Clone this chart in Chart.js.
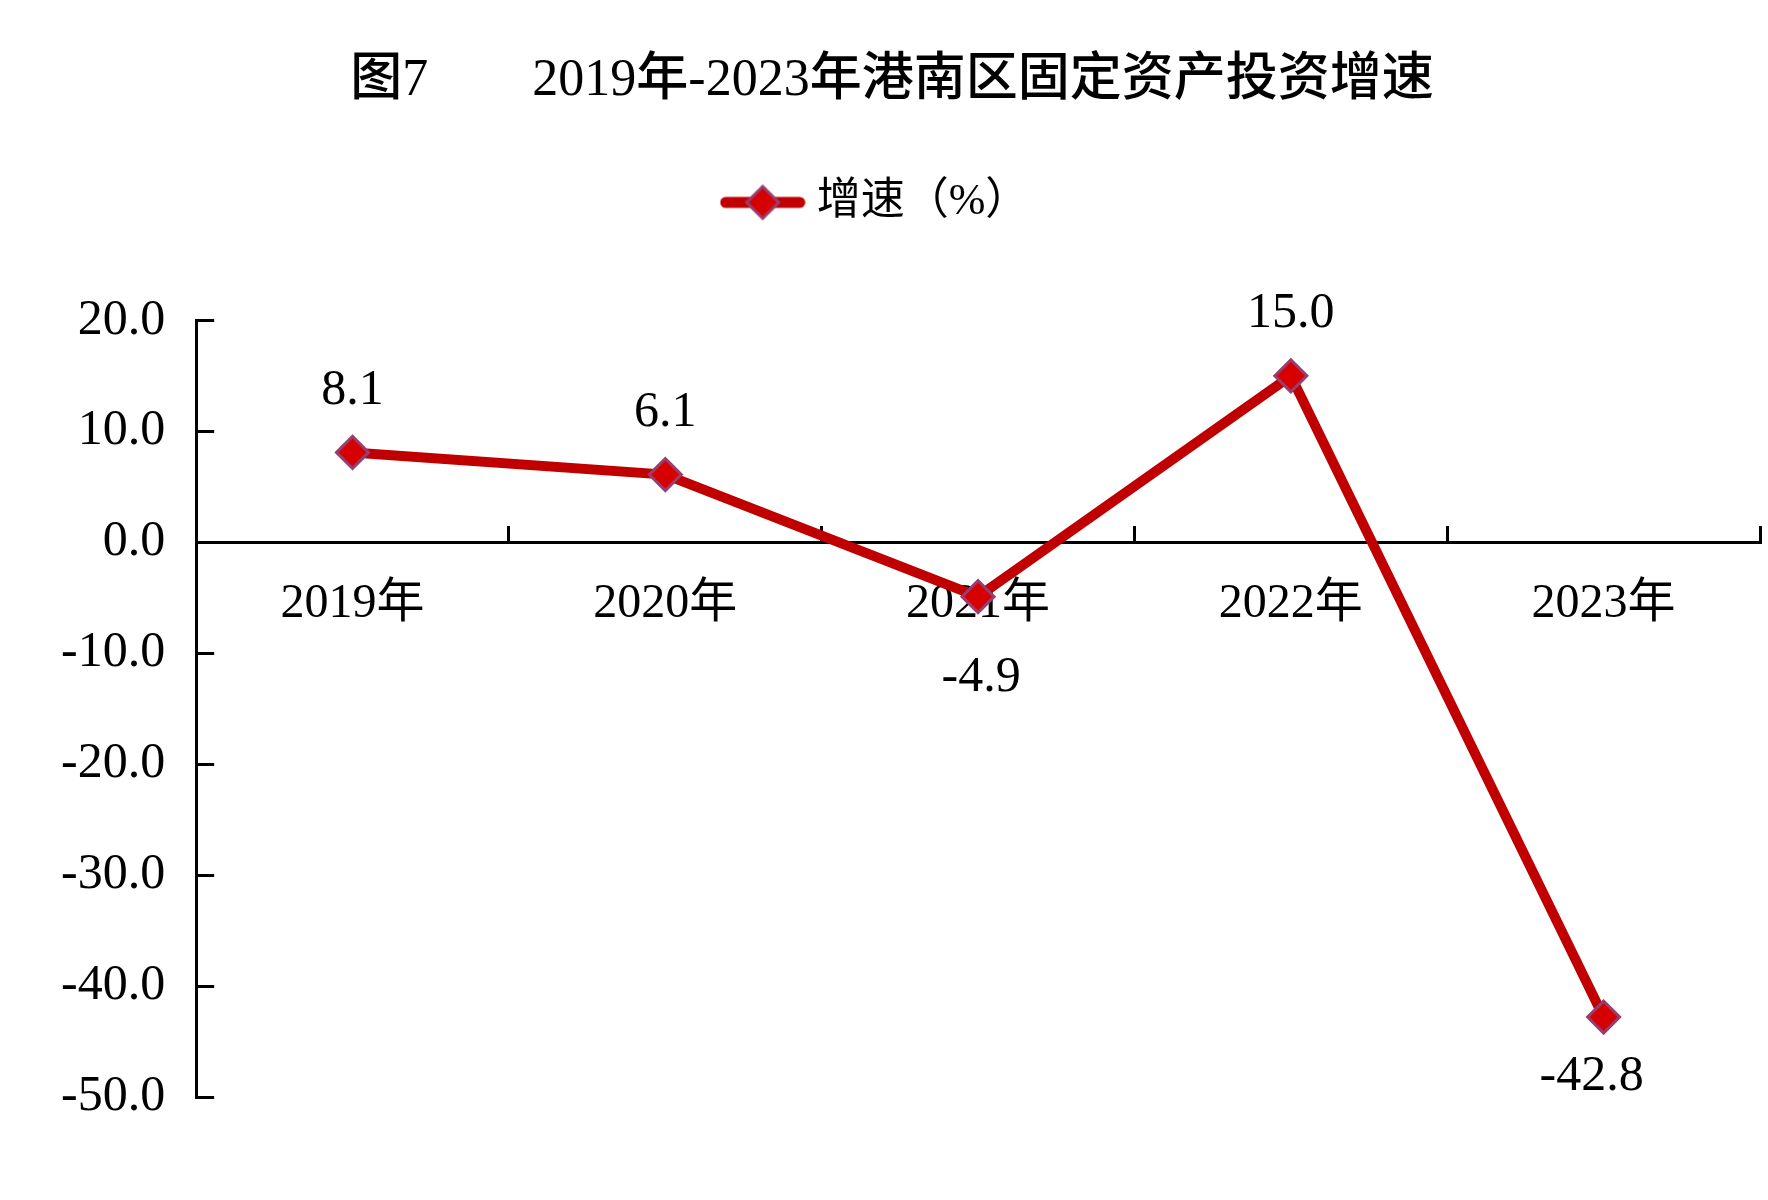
<!DOCTYPE html>
<html>
<head>
<meta charset="utf-8">
<title>2019年-2023年港南区固定资产投资增速</title>
<script src="https://cdn.jsdelivr.net/npm/chart.js@4"></script>
<style>
  html, body { margin: 0; padding: 0; background: #fff; }
  #wrap { width: 1768px; height: 1200px; }
</style>
</head>
<body>
<div id="wrap"><canvas id="chart" width="1768" height="1200"></canvas></div>
<script>
// data
const years = ["2019年", "2020年", "2021年", "2022年", "2023年"];
const growth = [8.1, 6.1, -4.9, 15.0, -42.8];
const seriesName = "增速（%）";
const chartTitle = "图7　　2019年-2023年港南区固定资产投资增速";
const yMin = -50;
const yMax = 20;
const yStep = 10;

const FONT = "'Liberation Serif', 'Noto Sans CJK SC', serif";
const LINE_RED = "#C00000";
const MARK_RED = "#D60000";
const MARK_EDGE = "#9A3D6C";

// legend symbol: a short thick line with the diamond on it
const legendIcon = document.createElement("canvas");
legendIcon.width = 86;
legendIcon.height = 40;
(function () {
  const c = legendIcon.getContext("2d");
  c.strokeStyle = LINE_RED;
  c.lineWidth = 11;
  c.lineCap = "round";
  c.beginPath();
  c.moveTo(6, 20);
  c.lineTo(80, 20);
  c.stroke();
  c.beginPath();
  c.moveTo(43, 4);
  c.lineTo(59, 20);
  c.lineTo(43, 36);
  c.lineTo(27, 20);
  c.closePath();
  c.fillStyle = MARK_RED;
  c.fill();
  c.lineWidth = 3;
  c.strokeStyle = MARK_EDGE;
  c.stroke();
})();

// value labels over / under each point
const valueLabels = {
  id: "valueLabels",
  afterDatasetsDraw(chart, args, opts) {
    const ctx = chart.ctx;
    const meta = chart.getDatasetMeta(0);
    const values = chart.data.datasets[0].data;
    ctx.save();
    ctx.font = opts.font;
    ctx.fillStyle = "#000";
    ctx.textAlign = "center";
    ctx.textBaseline = "middle";
    meta.data.forEach((pt, i) => {
      const v = values[i];
      const nudge = opts.nudge[i] || [0, 0];
      const y = v >= 0 ? pt.y - opts.above : pt.y + opts.below;
      ctx.fillText(v.toFixed(1), pt.x + nudge[0], y + nudge[1]);
    });
    ctx.restore();
  }
};

// leave room under the legend, and shift title / legend slightly as in the original
const legendSpace = {
  id: "legendSpace",
  beforeInit(chart) {
    const fit = chart.legend.fit;
    chart.legend.fit = function () {
      fit.call(this);
      this.height += 86;
    };
  },
  afterLayout(chart) {
    chart.legend.left -= 6;
    chart.legend.right -= 6;
    chart.titleBlock.left += 6;
    chart.titleBlock.right += 6;
  }
};

new Chart(document.getElementById("chart"), {
  type: "line",
  data: {
    labels: years,
    datasets: [{
      label: seriesName,
      data: growth,
      borderColor: LINE_RED,
      borderWidth: 10,
      tension: 0,
      fill: false,
      pointStyle: "rectRot",
      pointRadius: 16,
      pointHoverRadius: 16,
      pointBackgroundColor: MARK_RED,
      pointBorderColor: MARK_EDGE,
      pointBorderWidth: 3
    }]
  },
  options: {
    responsive: false,
    animation: false,
    devicePixelRatio: 1,
    layout: {
      autoPadding: false,
      padding: { left: 12, right: 8, top: 0, bottom: 103 }
    },
    scales: {
      x: {
        position: { y: 0 },
        offset: true,
        afterFit(scale) {
          scale.paddingLeft = 0;
          scale.paddingRight = 0;
        },
        grid: {
          offset: true,
          drawOnChartArea: false,
          drawTicks: true,
          tickLength: -18,
          color: "#000",
          lineWidth: 3
        },
        border: { display: true, color: "#000", width: 3 },
        ticks: {
          color: "#000",
          padding: 51,
          maxRotation: 0,
          font: { family: FONT, size: 48 }
        }
      },
      y: {
        min: yMin,
        max: yMax,
        grid: {
          drawOnChartArea: false,
          drawTicks: true,
          tickLength: -18,
          color: "#000",
          lineWidth: 3
        },
        border: { display: true, color: "#000", width: 3 },
        ticks: {
          stepSize: yStep,
          color: "#000",
          padding: 49,
          font: { family: FONT, size: 50 },
          callback: (v) => Number(v).toFixed(1)
        }
      }
    },
    plugins: {
      title: {
        display: true,
        text: chartTitle,
        color: "#000",
        font: { family: FONT, size: 52, weight: "500" },
        padding: { top: 50, bottom: 58 }
      },
      legend: {
        display: true,
        labels: {
          usePointStyle: true,
          pointStyle: legendIcon,
          pointStyleWidth: 64,
          color: "#000",
          font: { family: FONT, size: 44 },
          padding: 10
        }
      },
      tooltip: { enabled: false },
      valueLabels: {
        font: "50px " + FONT,
        above: 62,
        below: 70,
        nudge: { 2: [3, 11], 4: [-12, -10] }
      }
    }
  },
  plugins: [valueLabels, legendSpace]
});
</script>
</body>
</html>
